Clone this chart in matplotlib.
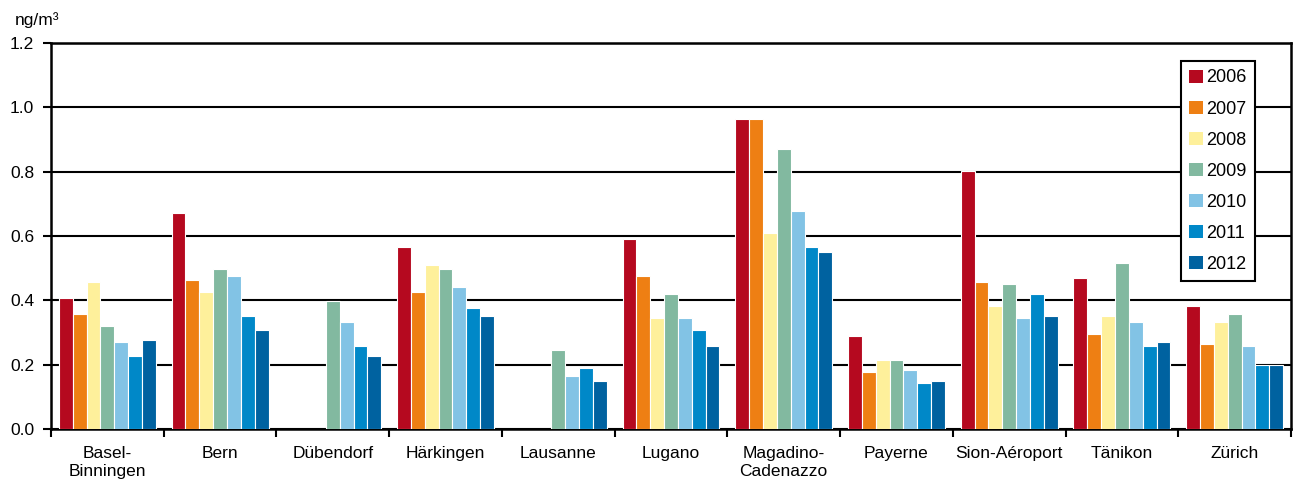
import numpy as np
import matplotlib
matplotlib.use("Agg")
import matplotlib.pyplot as plt
from matplotlib.ticker import FixedLocator

plt.rcParams['font.family'] = ['Liberation Sans', 'DejaVu Sans']

stations = ["Basel-\nBinningen", "Bern", "Dübendorf", "Härkingen", "Lausanne", "Lugano",
            "Magadino-\nCadenazzo", "Payerne", "Sion-Aéroport", "Tänikon", "Zürich"]
years = ["2006", "2007", "2008", "2009", "2010", "2011", "2012"]
colors = ["#B5091F", "#EE7F13", "#FEF09B", "#82B9A0", "#82C3E5", "#0088C8", "#0062A0"]

nan = np.nan
v2006 = [0.407, 0.671, nan, 0.567, nan, 0.592, 0.963, 0.289, 0.801, 0.468, 0.382]
v2007 = [0.357, 0.463, nan, 0.426, nan, 0.475, 0.963, 0.178, 0.456, 0.295, 0.264]
v2008 = [0.457, 0.426, nan, 0.511, nan, 0.345, 0.610, 0.214, 0.382, 0.351, 0.333]
v2009 = [0.320, 0.497, 0.399, 0.498, 0.246, 0.419, 0.870, 0.214, 0.450, 0.517, 0.357]
v2010 = [0.270, 0.475, 0.333, 0.443, 0.165, 0.345, 0.678, 0.183, 0.345, 0.333, 0.258]
v2011 = [0.227, 0.351, 0.258, 0.376, 0.190, 0.308, 0.567, 0.142, 0.419, 0.258, 0.198]
v2012 = [0.277, 0.308, 0.227, 0.351, 0.148, 0.258, 0.549, 0.148, 0.351, 0.270, 0.198]
series = [v2006, v2007, v2008, v2009, v2010, v2011, v2012]

fig = plt.figure(figsize=(12.93, 4.86), dpi=100)
ax = fig.add_axes([51 / 1293, 57 / 486, 1240 / 1293, 386 / 486])

x = np.arange(len(stations))
group = 0.86
w = group / len(years)
for i, (yr, vals) in enumerate(zip(years, series)):
    ax.bar(x - group / 2 + w * (i + 0.5), vals, width=w, color=colors[i],
           edgecolor="white", linewidth=0.8, label=yr, zorder=3)

ax.set_xlim(-0.5, len(stations) - 0.5)
ax.set_ylim(0, 1.2)
ax.set_yticks(np.arange(0, 1.21, 0.2))
ax.set_yticklabels([f"{t:.1f}" for t in np.arange(0, 1.21, 0.2)])
ax.yaxis.grid(True, color="black", linewidth=1.5, zorder=0)
ax.set_axisbelow(True)

ax.set_xticks(x)
ax.set_xticklabels(stations, fontsize=12.5, linespacing=1.3)
ax.xaxis.set_minor_locator(FixedLocator(np.arange(-0.5, len(stations), 1.0)))
ax.tick_params(axis="x", which="major", length=0, pad=12)
ax.tick_params(axis="x", which="minor", length=6, width=1.5, direction="out")
ax.tick_params(axis="y", length=6, width=1.5, direction="out", labelsize=12.5, pad=6)

for s in ax.spines.values():
    s.set_linewidth(1.8)
    s.set_color("black")

fig.text(15 / 1293, 1 - 20 / 486, "ng/m³", fontsize=12.5, va="center", ha="left")

leg = ax.legend(loc="upper left", bbox_to_anchor=(0.904, 0.976), fontsize=13,
                handlelength=0.75, handleheight=0.75, handletextpad=0.2,
                labelspacing=0.78, borderpad=0.45, fancybox=False, framealpha=1,
                edgecolor="black")
leg.get_frame().set_linewidth(1.5)
for h in leg.legend_handles:
    h.set_edgecolor("none")

fig.savefig("out.png", dpi=100)
